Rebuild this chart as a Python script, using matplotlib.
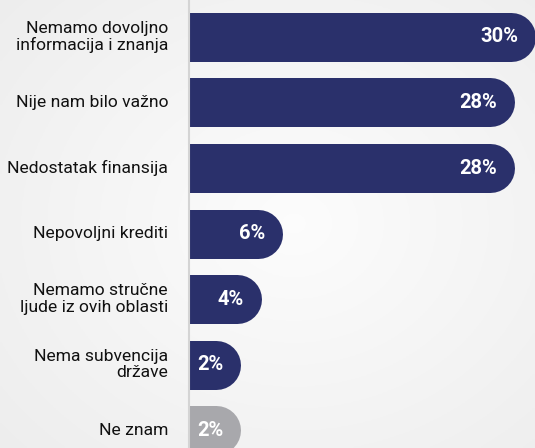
import numpy as np
import matplotlib.pyplot as plt

# Podaci
categories = [
    "Nemamo dovoljno\ninformacija i znanja",
    "Nije nam bilo važno",
    "Nedostatak finansija",
    "Nepovoljni krediti",
    "Nemamo stručne\nljude iz ovih oblasti",
    "Nema subvencija\ndržave",
    "Ne znam",
]
values = [30, 28, 28, 6, 4, 2, 2]
value_labels = ["30%", "28%", "28%", "6%", "4%", "2%", "2%"]
bar_colors = ["#2a306b"] * 6 + ["#a8a8ac"]

plt.rcParams['font.family'] = ['Roboto', 'DejaVu Sans']

W, H = 535, 448
fig = plt.figure(figsize=(W / 100, H / 100), dpi=100)

# Pozadina sa blagim gradijentom (svetlo siva -> bela u sredini)
bg = fig.add_axes([0, 0, 1, 1])
yy, xx = np.mgrid[0:1:200j, 0:1:200j]
d = np.sqrt((xx - 0.55) ** 2 + (yy - 0.5) ** 2)
d = np.clip(d / 0.75, 0, 1)
shade = 0.99 - 0.06 * d
img = np.dstack([shade, shade, shade])
bg.imshow(img, aspect="auto", extent=[0, 1, 0, 1])
bg.axis("off")

# Osa za trake
x0 = 189 / W
ax = fig.add_axes([x0, 0, 1 - x0, 1])
ax.patch.set_alpha(0)
px_per_unit = 10.55
left = -5.5 / px_per_unit
ax.set_xlim(left, left + (W - 189) / px_per_unit)
step = 65.5
top = 37
ax.set_ylim((H - top) / step, -top / step)

bar_px = 49
lw = bar_px * 72 / 100
ypos = np.arange(len(values))
for y, v, c, lab in zip(ypos, values, bar_colors, value_labels):
    ax.plot([-5, v], [y, y], color=c, linewidth=lw, solid_capstyle="round")
    ax.annotate(lab, (v, y), xytext=(5.4, 0), textcoords="offset points",
                ha="right", va="center", color="white", fontsize=14.5,
                fontweight="bold")

for y, cat in zip(ypos, categories):
    ax.annotate(cat, (left, y), xytext=(-21 * 0.72, 0), textcoords="offset points",
                ha="right", va="center", fontsize=12.6, color="#111111",
                linespacing=1.12, annotation_clip=False)

for s in ["top", "right", "bottom"]:
    ax.spines[s].set_visible(False)
ax.spines["left"].set_color("#d4d4d4")
ax.spines["left"].set_linewidth(1.5)
ax.set_xticks([])
ax.set_yticks([])

fig.savefig("out.png", dpi=100)
